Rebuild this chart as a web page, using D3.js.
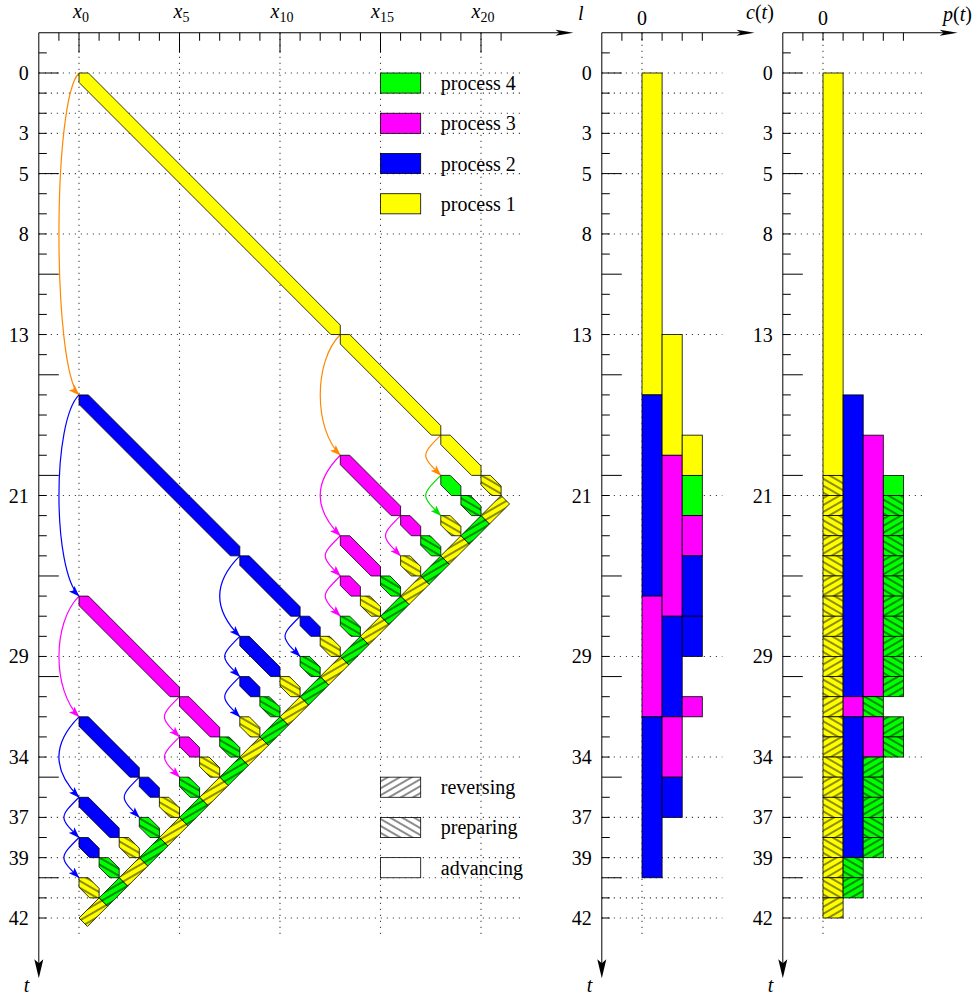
<!DOCTYPE html>
<html>
<head>
<meta charset="utf-8">
<script src="https://cdn.jsdelivr.net/npm/d3@7"></script>
<style>
    body { margin: 0; background: #fff; }
    svg text { font-family: "Liberation Serif", "Times New Roman", "DejaVu Serif", serif; font-size: 20px; fill: #000; }
    .grid { stroke: #444; stroke-width: 1.1; stroke-dasharray: 1.2 4.8; fill: none; }
    .axis { stroke: #000; stroke-width: 1; fill: none; }
    .cell { stroke: #000; stroke-width: 0.8; }
</style>
</head>
<body>
<svg id="chart" width="978" height="998" font-family="Liberation Serif, serif"></svg>
<script>
"use strict";

// ---- data ----
const tLabels = [0, 3, 5, 8, 13, 21, 29, 34, 37, 39, 42];
const tGrid = [0, 1, 2, 3, 5, 8, 13, 21, 29, 34, 37, 39, 40, 41, 42];
const xLabels = [0, 5, 10, 15, 20];

const processNames = { 1: "process 1", 2: "process 2", 3: "process 3", 4: "process 4" };
const modeNames = { rev: "reversing", prep: "preparing", adv: "advancing" };

// advancing runs: [process, x start, t start, steps]
const advancing = [
    [1, 0, 0, 13], [1, 13, 13, 5], [1, 18, 18, 2],
    [2, 0, 16, 8], [2, 8, 24, 3], [2, 11, 27, 1], [2, 8, 28, 2], [2, 8, 30, 1],
    [2, 0, 32, 3], [2, 3, 35, 1], [2, 0, 36, 2], [2, 0, 38, 1],
    [3, 13, 19, 3], [3, 16, 22, 1], [3, 13, 23, 2], [3, 13, 25, 1],
    [3, 0, 26, 5], [3, 5, 31, 2], [3, 5, 33, 1],
    [4, 18, 20, 1],
];

// preparing steps (one step each): [process, x, t]
const preparing = [
    [1, 20, 20], [4, 19, 21], [1, 18, 22], [4, 17, 23], [1, 16, 24], [4, 15, 25],
    [1, 14, 26], [4, 13, 27], [1, 12, 28], [4, 11, 29], [1, 10, 30], [4, 9, 31],
    [1, 8, 32], [4, 7, 33], [1, 6, 34], [4, 5, 35], [1, 4, 36], [4, 3, 37],
    [1, 2, 38], [4, 1, 39], [1, 0, 40],
];

// reversed steps: [process, step, t]
const reversing = [
    [1, 20, 21], [4, 19, 22], [1, 18, 23], [4, 17, 24], [1, 16, 25], [4, 15, 26],
    [1, 14, 27], [4, 13, 28], [1, 12, 29], [4, 11, 30], [1, 10, 31], [4, 9, 32],
    [1, 8, 33], [4, 7, 34], [1, 6, 35], [4, 5, 36], [1, 4, 37], [4, 3, 38],
    [1, 2, 39], [4, 1, 40], [1, 0, 41],
];

// checkpoint hand-overs: [process, x, t from, t to]
const handovers = [
    [1, 0, 0, 16], [1, 13, 13, 19], [1, 18, 18, 20],
    [2, 0, 16, 26], [2, 8, 24, 28], [2, 8, 28, 30], [2, 8, 30, 32], [2, 11, 27, 29],
    [2, 0, 32, 36], [2, 3, 35, 37], [2, 0, 36, 38], [2, 0, 38, 40],
    [3, 0, 26, 32], [3, 5, 31, 33], [3, 5, 33, 35], [3, 13, 19, 23],
    [3, 13, 23, 25], [3, 13, 25, 27], [3, 16, 22, 24],
    [4, 18, 20, 22],
];

// c(t): [column, t from, t to, process]
const checkpoints = [
    [0, 0, 16, 1], [0, 16, 26, 2], [0, 26, 32, 3], [0, 32, 40, 2],
    [1, 13, 19, 1], [1, 19, 27, 3], [1, 27, 32, 2], [1, 32, 35, 3], [1, 35, 37, 2],
    [2, 18, 20, 1], [2, 20, 22, 4], [2, 22, 24, 3], [2, 24, 27, 2], [2, 27, 29, 2], [2, 31, 32, 3],
];

// p(t): [column, t from, t to, process, mode]
const busy = [
    [0, 0, 20, 1, "adv"],
    [0, 20, 21, 1, "prep"], [0, 21, 22, 1, "rev"], [0, 22, 23, 1, "prep"], [0, 23, 24, 1, "rev"],
    [0, 24, 25, 1, "prep"], [0, 25, 26, 1, "rev"], [0, 26, 27, 1, "prep"], [0, 27, 28, 1, "rev"],
    [0, 28, 29, 1, "prep"], [0, 29, 30, 1, "rev"], [0, 30, 31, 1, "prep"], [0, 31, 32, 1, "rev"],
    [0, 32, 33, 1, "prep"], [0, 33, 34, 1, "rev"], [0, 34, 35, 1, "prep"], [0, 35, 36, 1, "rev"],
    [0, 36, 37, 1, "prep"], [0, 37, 38, 1, "rev"], [0, 38, 39, 1, "prep"], [0, 39, 40, 1, "rev"],
    [0, 40, 41, 1, "prep"], [0, 41, 42, 1, "rev"],
    [1, 16, 31, 2, "adv"], [1, 31, 32, 3, "adv"], [1, 32, 39, 2, "adv"],
    [1, 39, 40, 4, "prep"], [1, 40, 41, 4, "rev"],
    [2, 18, 31, 3, "adv"], [2, 31, 32, 4, "prep"], [2, 32, 34, 3, "adv"],
    [2, 34, 35, 4, "rev"], [2, 35, 36, 4, "prep"], [2, 36, 37, 4, "rev"],
    [2, 37, 38, 4, "prep"], [2, 38, 39, 4, "rev"],
    [3, 20, 21, 4, "adv"], [3, 21, 22, 4, "prep"], [3, 22, 23, 4, "rev"], [3, 23, 24, 4, "prep"],
    [3, 24, 25, 4, "rev"], [3, 25, 26, 4, "prep"], [3, 26, 27, 4, "rev"], [3, 27, 28, 4, "prep"],
    [3, 28, 29, 4, "rev"], [3, 29, 30, 4, "prep"], [3, 30, 31, 4, "rev"],
    [3, 32, 33, 4, "rev"], [3, 33, 34, 4, "prep"],
];

// ---- styling ----
const fillColor = { 1: "#ffff00", 2: "#0000ff", 3: "#ff00ff", 4: "#00ff00" };
const arrowColor = { 1: "#ff8800", 2: "#0000ff", 3: "#ff00ff", 4: "#00e000" };
const hatchAngle = { prep: 30, rev: -30 };

const U = 20.1;
const x = d3.scaleLinear().domain([0, 20]).range([79, 79 + 20 * U]);
const y = d3.scaleLinear().domain([0, 42]).range([73, 918]);
const xc = d3.scaleLinear().domain([0, 1]).range([642, 642 + U]);
const xp = d3.scaleLinear().domain([0, 1]).range([823, 823 + U]);

const svg = d3.select("#chart");
const defs = svg.append("defs");

function hatchId(mode, colour) {
    return "hatch-" + mode + "-" + colour.slice(1);
}

["prep", "rev"].forEach(mode => {
    ["#ffff00", "#00ff00", "#ffffff"].forEach(colour => {
        const p = defs.append("pattern")
            .attr("id", hatchId(mode, colour))
            .attr("patternUnits", "userSpaceOnUse")
            .attr("width", 12).attr("height", 6)
            .attr("patternTransform", `rotate(${hatchAngle[mode]})`);
        p.append("rect").attr("width", 12).attr("height", 6).attr("fill", colour);
        p.append("line").attr("x1", 0).attr("x2", 12).attr("y1", 3).attr("y2", 3)
            .attr("stroke", "#000").attr("stroke-width", 0.9);
    });
});

Object.keys(arrowColor).forEach(k => {
    defs.append("marker")
        .attr("id", "head-" + k)
        .attr("markerUnits", "userSpaceOnUse")
        .attr("viewBox", "0 0 11 8")
        .attr("markerWidth", 11).attr("markerHeight", 8)
        .attr("refX", 10.5).attr("refY", 4)
        .attr("orient", "auto")
        .append("path").attr("d", "M0,0 L11,4 L0,8 L2.5,4 Z").attr("fill", arrowColor[k]);
});

function cellFill(proc, mode) {
    if (mode === "adv") return fillColor[proc];
    return `url(#${hatchId(mode, fillColor[proc])})`;
}

// ---- axes and grids for one panel ----
function drawFrame(g, xs, opt) {
    const ax = xs(-2), ay = y(-2);
    const tipX = xs(opt.arrowAt), tipY = y(45);

    g.selectAll("line.hgrid").data(tGrid).join("line")
        .attr("class", "grid hgrid")
        .attr("x1", ax).attr("x2", xs(opt.gridTo))
        .attr("y1", d => y(d)).attr("y2", d => y(d));
    g.selectAll("line.vgrid").data(opt.vGrid).join("line")
        .attr("class", "grid vgrid")
        .attr("x1", d => xs(d)).attr("x2", d => xs(d))
        .attr("y1", ay).attr("y2", y(43));

    g.append("line").attr("class", "axis")
        .attr("x1", ax).attr("x2", tipX - 10).attr("y1", ay).attr("y2", ay);
    g.append("path").attr("fill", "#000")
        .attr("d", `M${tipX},${ay} L${tipX - 18},${ay - 3} L${tipX - 14},${ay} L${tipX - 18},${ay + 3} Z`);
    g.append("line").attr("class", "axis")
        .attr("x1", ax).attr("x2", ax).attr("y1", ay).attr("y2", tipY - 12);
    g.append("path").attr("fill", "#000")
        .attr("d", `M${ax},${tipY} L${ax - 4.5},${tipY - 19} L${ax},${tipY - 15} L${ax + 4.5},${tipY - 19} Z`);

    g.selectAll("line.xtick").data(opt.xTicks).join("line")
        .attr("class", "axis xtick")
        .attr("x1", d => xs(d)).attr("x2", d => xs(d))
        .attr("y1", ay).attr("y2", d => ay + (opt.longX && d % 5 === 0 ? 20 : 8));
    g.selectAll("line.ttick").data(d3.range(-1, 43)).join("line")
        .attr("class", "axis ttick")
        .attr("x1", ax).attr("x2", d => ax + (d % 5 === 0 ? 20 : 8))
        .attr("y1", d => y(d)).attr("y2", d => y(d));

    g.selectAll("text.tlabel").data(tLabels).join("text")
        .attr("class", "tlabel")
        .attr("x", ax - 10).attr("y", d => y(d) + 7)
        .attr("text-anchor", "end")
        .text(d => d);

    g.append("text").attr("x", ax - 15).attr("y", 992)
        .attr("font-style", "italic").text("t");
}

const left = svg.append("g");
const mid = svg.append("g");
const right = svg.append("g");

drawFrame(left, x, { arrowAt: 24.6, gridTo: 22, vGrid: xLabels, xTicks: d3.range(-1, 22), longX: true });
drawFrame(mid, xc, { arrowAt: 5.6, gridTo: 4, vGrid: [0], xTicks: d3.range(-1, 4), longX: false });
drawFrame(right, xp, { arrowAt: 6.7, gridTo: 5, vGrid: [0], xTicks: d3.range(-1, 5), longX: false });

// top labels
const xl = left.selectAll("text.xlabel").data(xLabels).join("text")
    .attr("class", "xlabel")
    .attr("x", d => x(d) + 2).attr("y", 18)
    .attr("text-anchor", "middle");
xl.append("tspan").attr("font-style", "italic").text("x");
xl.append("tspan").attr("font-size", 14).attr("dy", 4).text(d => d);

left.append("text").attr("x", 578).attr("y", 20).attr("font-style", "italic").attr("font-size", 22).text("l");

mid.append("text").attr("x", xc(0)).attr("y", 25).attr("text-anchor", "middle").text("0");
right.append("text").attr("x", xp(0)).attr("y", 25).attr("text-anchor", "middle").text("0");

function funcLabel(g, px, py, name) {
    const t = g.append("text").attr("x", px).attr("y", py);
    t.append("tspan").attr("font-style", "italic").text(name);
    t.append("tspan").text("(");
    t.append("tspan").attr("font-style", "italic").text("t");
    t.append("tspan").text(")");
}
funcLabel(mid, 746, 19, "c");
funcLabel(right, 943, 21, "p");

// ---- left panel: schedule ----
const H = 0.47;   // half width of a running bar, in steps
const R = 0.42;   // thickness of the reversal band, in steps

const toPath = pts => "M" + pts.map(p => x(p[0]) + "," + y(p[1])).join("L") + "Z";

function runShape(x0, t0, n) {
    const x1 = x0 + n, t1 = t0 + n;
    return toPath([[x0, t0], [x0 + H, t0], [x1, t1 - H], [x1, t1], [x1 - H, t1], [x0, t0 + H]]);
}

function reverseShape(step, t) {
    return toPath([[step + 1, t], [step, t + 1], [step + R, t + 1 + R], [step + 1 + R, t + R]]);
}

function handoverPath(xv, ta, tb) {
    const d = Math.min(1.33, 0.5 * (tb - ta));
    const p = d3.path();
    p.moveTo(x(xv), y(ta));
    p.bezierCurveTo(x(xv - d), y(ta + d), x(xv - d), y(tb - d), x(xv), y(tb));
    return p.toString();
}

const sched = left.append("g");

sched.selectAll("path.handover").data(handovers).join("path")
    .attr("class", "handover")
    .attr("d", d => handoverPath(d[1], d[2], d[3]))
    .attr("fill", "none")
    .attr("stroke", d => arrowColor[d[0]])
    .attr("stroke-width", 1.2)
    .attr("marker-end", d => `url(#head-${d[0]})`);

sched.selectAll("path.adv").data(advancing).join("path")
    .attr("class", "cell adv")
    .attr("d", d => runShape(d[1], d[2], d[3]))
    .attr("fill", d => cellFill(d[0], "adv"));

sched.selectAll("path.prep").data(preparing).join("path")
    .attr("class", "cell prep")
    .attr("d", d => runShape(d[1], d[2], 1))
    .attr("fill", d => cellFill(d[0], "prep"));

sched.selectAll("path.rev").data(reversing).join("path")
    .attr("class", "cell rev")
    .attr("d", d => reverseShape(d[1], d[2]))
    .attr("fill", d => cellFill(d[0], "rev"));

// legends
const procLegend = left.append("g").selectAll("g").data([4, 3, 2, 1]).join("g");
procLegend.append("rect").attr("class", "cell")
    .attr("x", x(15)).attr("width", x(17) - x(15))
    .attr("y", (d, i) => y(2 * i)).attr("height", y(1) - y(0))
    .attr("fill", d => fillColor[d]);
procLegend.append("text")
    .attr("x", x(18)).attr("y", (d, i) => y(2 * i + 0.5) + 7)
    .text(d => processNames[d]);

const modeLegend = left.append("g").selectAll("g").data(["rev", "prep", "adv"]).join("g");
modeLegend.append("rect").attr("class", "cell")
    .attr("x", x(15)).attr("width", x(17) - x(15))
    .attr("y", (d, i) => y(35 + 2 * i)).attr("height", y(1) - y(0))
    .attr("fill", d => d === "adv" ? "#fff" : `url(#${hatchId(d, "#ffffff")})`);
modeLegend.append("text")
    .attr("x", x(18)).attr("y", (d, i) => y(35.5 + 2 * i) + 7)
    .text(d => modeNames[d]);

// ---- middle panel: checkpoints c(t) ----
mid.append("g").selectAll("rect").data(checkpoints).join("rect")
    .attr("class", "cell")
    .attr("x", d => xc(d[0])).attr("width", d => xc(d[0] + 1) - xc(d[0]))
    .attr("y", d => y(d[1])).attr("height", d => y(d[2]) - y(d[1]))
    .attr("fill", d => fillColor[d[3]]);

// ---- right panel: processes p(t) ----
right.append("g").selectAll("rect").data(busy).join("rect")
    .attr("class", "cell")
    .attr("x", d => xp(d[0])).attr("width", d => xp(d[0] + 1) - xp(d[0]))
    .attr("y", d => y(d[1])).attr("height", d => y(d[2]) - y(d[1]))
    .attr("fill", d => cellFill(d[3], d[4]));
</script>
</body>
</html>
